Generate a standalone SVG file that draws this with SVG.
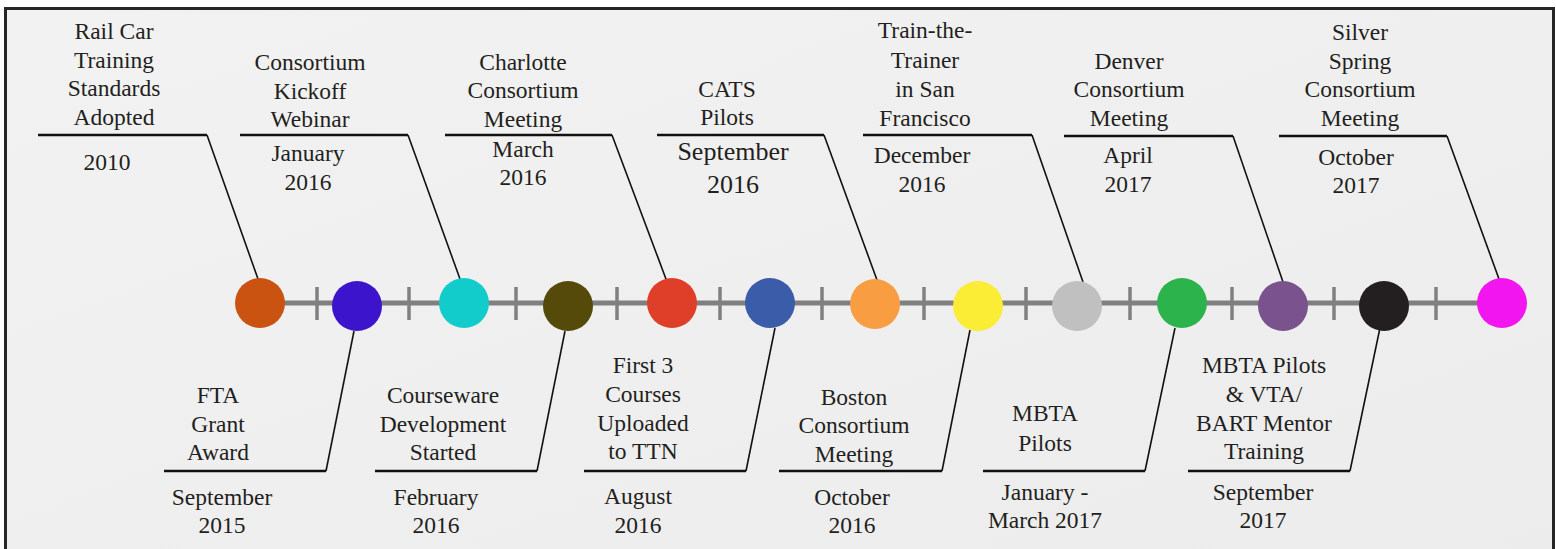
<svg xmlns="http://www.w3.org/2000/svg" width="1556" height="549" viewBox="0 0 1556 549">
<defs>
<linearGradient id="bg" x1="0" y1="0" x2="1" y2="1">
<stop offset="0" stop-color="#f2f2f2"/>
<stop offset="1" stop-color="#ececec"/>
</linearGradient>
<style>
text{font-family:"Liberation Serif","Times New Roman",serif;font-size:23.5px;fill:#231f20;text-anchor:middle}
.big{font-size:26px}
.rule{stroke:#111;stroke-width:2.6;fill:none}
.lead{stroke:#111;stroke-width:1.6;fill:none}
.axis{stroke:#808080;stroke-width:5}
.tick{stroke:#808080;stroke-width:3.5}
</style>
</defs>
<rect x="0" y="0" width="1556" height="549" fill="#ffffff"/>
<rect x="5.5" y="8.5" width="1548" height="560" fill="url(#bg)" stroke="#262626" stroke-width="3"/>
<g id="timeline">
<line class="axis" x1="260" y1="303" x2="1502" y2="303"/>
<g class="tick">
<line x1="317" y1="287" x2="317" y2="320"/>
<line x1="409" y1="287" x2="409" y2="320"/>
<line x1="516" y1="287" x2="516" y2="320"/>
<line x1="617" y1="287" x2="617" y2="320"/>
<line x1="720" y1="287" x2="720" y2="320"/>
<line x1="822" y1="287" x2="822" y2="320"/>
<line x1="924" y1="287" x2="924" y2="320"/>
<line x1="1026" y1="287" x2="1026" y2="320"/>
<line x1="1130" y1="287" x2="1130" y2="320"/>
<line x1="1232" y1="287" x2="1232" y2="320"/>
<line x1="1334" y1="287" x2="1334" y2="320"/>
<line x1="1436" y1="287" x2="1436" y2="320"/>
</g>
</g>
<g id="connectors">
<polyline class="rule" points="38,135 207,135"/><line class="lead" x1="207" y1="135" x2="258" y2="279"/>
<polyline class="rule" points="240,135 408,135"/><line class="lead" x1="408" y1="135" x2="460" y2="279"/>
<polyline class="rule" points="445,135 612,135"/><line class="lead" x1="612" y1="135" x2="666" y2="279"/>
<polyline class="rule" points="657,135 824,135"/><line class="lead" x1="824" y1="135" x2="877" y2="280"/>
<polyline class="rule" points="863,135 1032,135"/><line class="lead" x1="1032" y1="135" x2="1083" y2="282"/>
<polyline class="rule" points="1064,136 1233,136"/><line class="lead" x1="1233" y1="136" x2="1283" y2="282"/>
<polyline class="rule" points="1279,136 1447,136"/><line class="lead" x1="1447" y1="136" x2="1499" y2="279"/>
<polyline class="rule" points="164,471 326,471"/><line class="lead" x1="326" y1="471" x2="354" y2="331"/>
<polyline class="rule" points="375,471 537,471"/><line class="lead" x1="537" y1="471" x2="565" y2="331"/>
<polyline class="rule" points="584,471 746,471"/><line class="lead" x1="746" y1="471" x2="775" y2="328"/>
<polyline class="rule" points="779,471 942,471"/><line class="lead" x1="942" y1="471" x2="970" y2="330"/>
<polyline class="rule" points="983,471 1145,471"/><line class="lead" x1="1145" y1="471" x2="1175" y2="328"/>
<polyline class="rule" points="1188,471 1350,471"/><line class="lead" x1="1350" y1="471" x2="1381" y2="323"/>
</g>
<g id="n1"><circle cx="260" cy="303" r="25" fill="#cb5312"/>
<text x="114" y="39">Rail Car</text><text x="114" y="68">Training</text><text x="114" y="96">Standards</text><text x="114" y="125">Adopted</text>
<text x="107" y="170">2010</text></g>
<g id="n2"><circle cx="357" cy="306" r="25" fill="#3b14cc"/>
<text x="218" y="403">FTA</text><text x="218" y="432">Grant</text><text x="218" y="460">Award</text>
<text x="222" y="505">September</text><text x="222" y="533">2015</text></g>
<g id="n3"><circle cx="464" cy="303" r="25" fill="#12cccc"/>
<text x="310" y="70">Consortium</text><text x="310" y="99">Kickoff</text><text x="310" y="127">Webinar</text>
<text x="308" y="161">January</text><text x="308" y="190">2016</text></g>
<g id="n4"><circle cx="568" cy="306" r="25" fill="#554a0a"/>
<text x="443" y="403">Courseware</text><text x="443" y="432">Development</text><text x="443" y="460">Started</text>
<text x="436" y="505">February</text><text x="436" y="533">2016</text></g>
<g id="n5"><circle cx="672" cy="303" r="25" fill="#df3e28"/>
<text x="523" y="70">Charlotte</text><text x="523" y="98">Consortium</text><text x="523" y="127">Meeting</text>
<text x="523" y="157">March</text><text x="523" y="185">2016</text></g>
<g id="n6"><circle cx="770" cy="303" r="25" fill="#3a5ca9"/>
<text x="643" y="373">First 3</text><text x="643" y="402">Courses</text><text x="643" y="431">Uploaded</text><text x="643" y="459">to TTN</text>
<text x="638" y="504">August</text><text x="638" y="533">2016</text></g>
<g id="n7"><circle cx="875" cy="304" r="25" fill="#f99d42"/>
<text x="727" y="97">CATS</text><text x="727" y="125">Pilots</text>
<text class="big" x="733" y="160">September</text><text class="big" x="733" y="193">2016</text></g>
<g id="n8"><circle cx="978" cy="306" r="25" fill="#fbec36"/>
<text x="854" y="405">Boston</text><text x="854" y="433">Consortium</text><text x="854" y="462">Meeting</text>
<text x="852" y="505">October</text><text x="852" y="533">2016</text></g>
<g id="n9"><circle cx="1077" cy="306" r="25" fill="#c0c0c0"/>
<text x="925" y="38">Train-the-</text><text x="925" y="68">Trainer</text><text x="925" y="97">in San</text><text x="925" y="126">Francisco</text>
<text x="922" y="163">December</text><text x="922" y="192">2016</text></g>
<g id="n10"><circle cx="1182" cy="303" r="25" fill="#2db34b"/>
<text x="1045" y="421">MBTA</text><text x="1045" y="451">Pilots</text>
<text x="1045" y="500">January -</text><text x="1045" y="528">March 2017</text></g>
<g id="n11"><circle cx="1283" cy="306" r="25" fill="#7a528e"/>
<text x="1129" y="69">Denver</text><text x="1129" y="97">Consortium</text><text x="1129" y="126">Meeting</text>
<text x="1128" y="163">April</text><text x="1128" y="192">2017</text></g>
<g id="n12"><circle cx="1384" cy="306" r="25" fill="#231f20"/>
<text x="1264" y="373">MBTA Pilots</text><text x="1264" y="402">&amp; VTA/</text><text x="1264" y="431">BART Mentor</text><text x="1264" y="459">Training</text>
<text x="1263" y="500">September</text><text x="1263" y="528">2017</text></g>
<g id="n13"><circle cx="1502" cy="303" r="25" fill="#f315ef"/>
<text x="1360" y="40">Silver</text><text x="1360" y="69">Spring</text><text x="1360" y="97">Consortium</text><text x="1360" y="126">Meeting</text>
<text x="1356" y="165">October</text><text x="1356" y="193">2017</text></g>
</svg>
